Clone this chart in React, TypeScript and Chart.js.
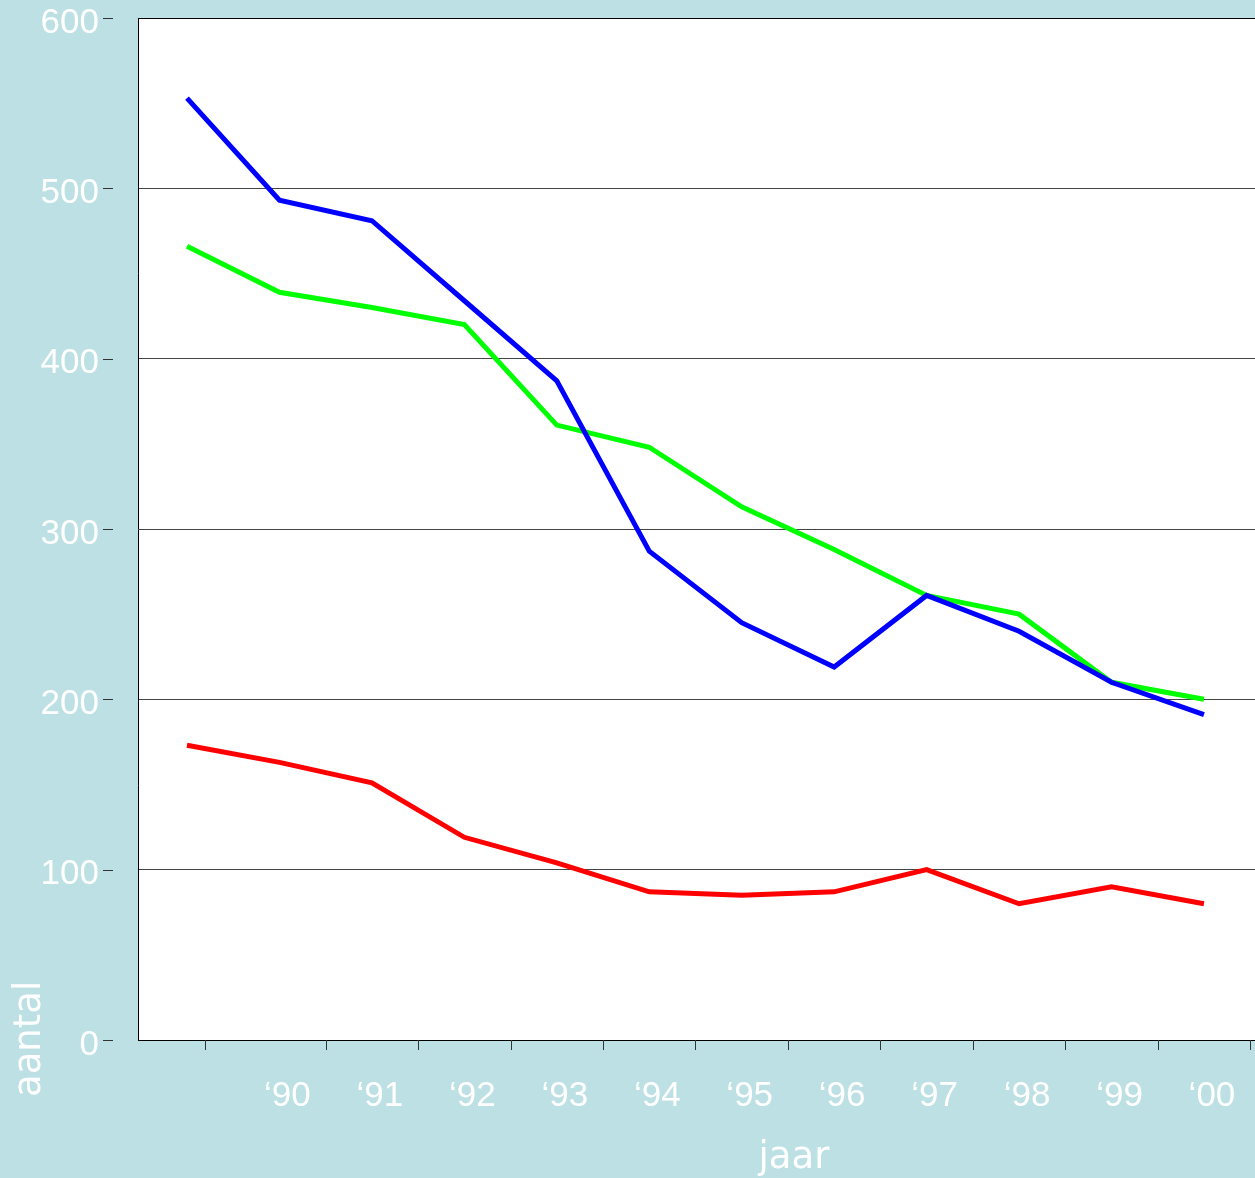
import React, { useEffect, useRef } from "react";
import { Chart, registerables } from "chart.js";

Chart.register(...registerables);

// ---- data ----
const years = ["1989", "1990", "1991", "1992", "1993", "1994", "1995", "1996", "1997", "1998", "1999", "2000"];
const xTickLabels = ["‘90", "‘91", "‘92", "‘93", "‘94", "‘95", "‘96", "‘97", "‘98", "‘99", "‘00"];
const blueSeries = [553, 493, 481, 434, 387, 287, 245, 219, 261, 240, 210, 191];
const greenSeries = [466, 439, 430, 420, 361, 348, 313, 288, 261, 250, 210, 200];
const redSeries = [173, 163, 151, 119, 104, 87, 85, 87, 100, 80, 90, 80];
const yTickValues = [0, 100, 200, 300, 400, 500, 600];
const xTickMarkValues = [0.2, 1.5, 2.5, 3.5, 4.5, 5.5, 6.5, 7.5, 8.5, 9.5, 10.5, 11.5];
const yTitle = "aantal";
const xTitle = "jaar";

const W = 1255;
const H = 1178;
const BG = "#bce0e3";

const toPoints = (arr: number[]) => arr.map((v, i) => ({ x: i, y: v }));

const decorPlugin = {
  id: "decor",
  beforeDraw(chart: any) {
    const { ctx, chartArea } = chart;
    ctx.save();
    ctx.fillStyle = "#ffffff";
    ctx.fillRect(chartArea.left, chartArea.top, chartArea.right - chartArea.left, chartArea.bottom - chartArea.top);
    ctx.restore();
  },
  afterDraw(chart: any) {
    const { ctx, chartArea } = chart;
    const xs = chart.scales.x;
    const ys = chart.scales.y;
    ctx.save();
    ctx.strokeStyle = "#333333";
    ctx.lineWidth = 1;
    // detached y tick marks
    yTickValues.forEach((v) => {
      const y = Math.round(ys.getPixelForValue(v)) + 0.5;
      ctx.beginPath();
      ctx.moveTo(chartArea.left - 35, y);
      ctx.lineTo(chartArea.left - 25, y);
      ctx.stroke();
    });
    // x tick marks
    xTickMarkValues.forEach((v) => {
      const x = Math.round(xs.getPixelForValue(v)) + 0.5;
      ctx.beginPath();
      ctx.moveTo(x, chartArea.bottom);
      ctx.lineTo(x, chartArea.bottom + 10);
      ctx.stroke();
    });
    // axis titles
    ctx.fillStyle = "#ffffff";
    ctx.font = "37px 'DejaVu Sans'";
    ctx.textAlign = "center";
    ctx.textBaseline = "alphabetic";
    ctx.fillText(xTitle, 794, 1168);
    ctx.translate(30.5, 1097);
    ctx.rotate(-Math.PI / 2);
    ctx.textAlign = "left";
    ctx.textBaseline = "middle";
    ctx.fillText(yTitle, 0, 0);
    ctx.restore();
  },
};

export default function App() {
  const ref = useRef<HTMLCanvasElement>(null);
  useEffect(() => {
    if (!ref.current) return;
    const lineStyle = { borderWidth: 5, pointRadius: 0, tension: 0, borderJoinStyle: "miter", borderCapStyle: "butt" };
    const chart = new Chart(ref.current, {
      type: "line",
      data: {
        labels: years,
        datasets: [
          { label: "blauw", data: toPoints(blueSeries), borderColor: "#0000ff", backgroundColor: "#0000ff", ...lineStyle },
          { label: "groen", data: toPoints(greenSeries), borderColor: "#00ff00", backgroundColor: "#00ff00", ...lineStyle },
          { label: "rood", data: toPoints(redSeries), borderColor: "#ff0000", backgroundColor: "#ff0000", ...lineStyle },
        ],
      },
      options: {
        animation: false,
        responsive: false,
        maintainAspectRatio: false,
        devicePixelRatio: 1,
        layout: { padding: { top: 18, right: 0, bottom: 0, left: 0 } },
        plugins: { legend: { display: false }, tooltip: { enabled: false } },
        scales: {
          x: {
            type: "linear",
            min: -0.53,
            max: 11.552,
            bounds: "data",
            afterFit: (s: any) => { s.height = 138; s.paddingLeft = 0; s.paddingRight = 0; },
            afterBuildTicks: (s: any) => { s.ticks = xTickLabels.map((_, i) => ({ value: i + 1 })); },
            grid: { display: false, drawTicks: false },
            border: { display: true, color: "#000000", width: 1 },
            ticks: {
              autoSkip: false,
              maxRotation: 0,
              minRotation: 0,
              padding: 35,
              labelOffset: 8,
              color: "#ffffff",
              font: { family: "'Liberation Sans', Arial, sans-serif", size: 35 },
              callback: (_v: any, i: number) => xTickLabels[i],
            },
          },
          y: {
            type: "linear",
            min: 0,
            max: 600,
            afterFit: (s: any) => { s.width = 138; s.paddingTop = 0; s.paddingBottom = 0; },
            afterBuildTicks: (s: any) => { s.ticks = yTickValues.map((v) => ({ value: v })); },
            grid: {
              drawTicks: false,
              color: (c: any) => (c.tick && c.tick.value === 600 ? "#000000" : "#444444"),
              lineWidth: 1,
            },
            border: { display: true, color: "#000000", width: 1 },
            ticks: {
              padding: 39,
              labelOffset: 5,
              color: "#ffffff",
              font: { family: "'Liberation Sans', Arial, sans-serif", size: 35 },
              callback: (v: any) => String(v),
            },
          },
        },
      } as any,
      plugins: [decorPlugin],
    });
    return () => chart.destroy();
  }, []);
  return (
    <div style={{ position: "fixed", left: 0, top: 0, width: W, height: H, background: BG }}>
      <canvas ref={ref} width={W} height={H} style={{ display: "block", width: W, height: H }} />
    </div>
  );
}
